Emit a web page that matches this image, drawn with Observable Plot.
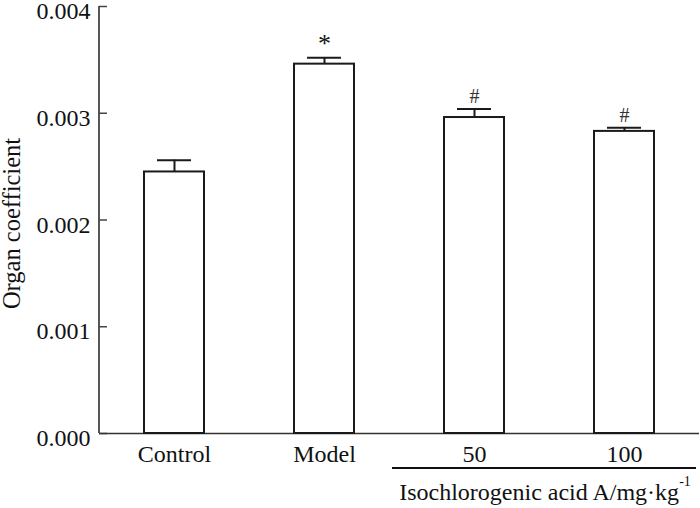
<!DOCTYPE html>
<html>
<head>
<meta charset="utf-8">
<script src="https://cdn.jsdelivr.net/npm/d3@7"></script>
<script src="https://cdn.jsdelivr.net/npm/@observablehq/plot@0.6"></script>
<style>
  html, body { margin: 0; padding: 0; background: #fff; }
</style>
</head>
<body>
<div id="chart"></div>
<script>
const groups = ["Control", "Model", "50", "100"];
const means = [0.00245, 0.00346, 0.00296, 0.00283];
const errors = [0.00011, 0.00006, 0.00008, 0.000035];
const marks = ["", "*", "#", "#"];
const yTicks = [0, 0.001, 0.002, 0.003, 0.004];
const yLabel = "Organ coefficient";
const groupLabel = "Isochlorogenic acid A/mg·kg";
const groupLabelSup = "-1";
const groupMembers = ["50", "100"];

const data = groups.map((g, i) => ({g, v: means[i], e: errors[i], top: means[i] + errors[i], m: marks[i]}));

const FONT = "'Liberation Serif', 'Times New Roman', serif";
const W = 700, H = 508;
const plot = Plot.plot({
  width: W,
  height: H,
  marginLeft: 99,
  marginRight: 1,
  marginTop: 6,
  marginBottom: 75,
  style: {fontFamily: FONT, fontSize: "24px", color: "#111", background: "#fff", overflow: "visible"},
  x: {domain: groups, paddingInner: 0.6, paddingOuter: 0.3, label: null},
  y: {domain: [0, 0.004], label: null},
  marks: [
    Plot.axisX({tickSize: 0, tickPadding: 11, label: null}),
    Plot.axisY(yTicks, {tickSize: 0, tickPadding: 9, dy: 5, tickFormat: d3.format(".3f"), label: null}),
    Plot.axisY(yTicks, {tickSize: -8, text: null, label: null, stroke: "#444", strokeWidth: 1.5}),
    Plot.ruleY([0], {stroke: "#333", strokeWidth: 1.5}),
    Plot.barY(data, {x: "g", y: "v", fill: "white", stroke: "#1a1a1a", strokeWidth: 2}),
    Plot.ruleX(data, {x: "g", y1: "v", y2: "top", stroke: "#1a1a1a", strokeWidth: 2}),
    Plot.tickY(data, {x: "g", y: "top", stroke: "#1a1a1a", strokeWidth: 2, insetLeft: 13, insetRight: 13}),
    Plot.text(data.filter(d => d.m === "*"), {x: "g", y: "top", text: "m", dy: -6, lineAnchor: "bottom", fontSize: 26, fill: "#111"}),
    Plot.text(data.filter(d => d.m === "#"), {x: "g", y: "top", text: "m", dy: -6, lineAnchor: "bottom", fontSize: 20, fill: "#333"})
  ]
});

const svg = d3.select(plot);
const ys = plot.scale("y");
const xs = plot.scale("x");
const bw = xs.bandwidth;

// y axis line
svg.append("line")
  .attr("x1", 99).attr("x2", 99)
  .attr("y1", ys.apply(0)).attr("y2", ys.apply(0.004))
  .attr("stroke", "#444").attr("stroke-width", 1.8);

// y axis title
svg.append("text")
  .attr("transform", `translate(20,${(ys.apply(0) + ys.apply(0.004)) / 2 + 4}) rotate(-90)`)
  .attr("text-anchor", "middle")
  .attr("fill", "#111")
  .style("font-family", FONT)
  .style("font-size", "24.5px")
  .text(yLabel);

// group underline + label
const x1 = xs.apply(groupMembers[0]) - 52;
const x2 = xs.apply(groupMembers[groupMembers.length - 1]) + bw + 42;
svg.append("line")
  .attr("x1", x1).attr("x2", x2)
  .attr("y1", H - 40).attr("y2", H - 40)
  .attr("stroke", "#111").attr("stroke-width", 2);
const t = svg.append("text")
  .attr("x", (x1 + x2) / 2 + 1)
  .attr("y", H - 8)
  .attr("text-anchor", "middle")
  .attr("fill", "#111")
  .style("font-family", FONT)
  .style("font-size", "24px");
t.append("tspan").text(groupLabel);
t.append("tspan").attr("dy", -14).style("font-size", "14px").text(groupLabelSup);

document.getElementById("chart").appendChild(plot);
</script>
</body>
</html>
